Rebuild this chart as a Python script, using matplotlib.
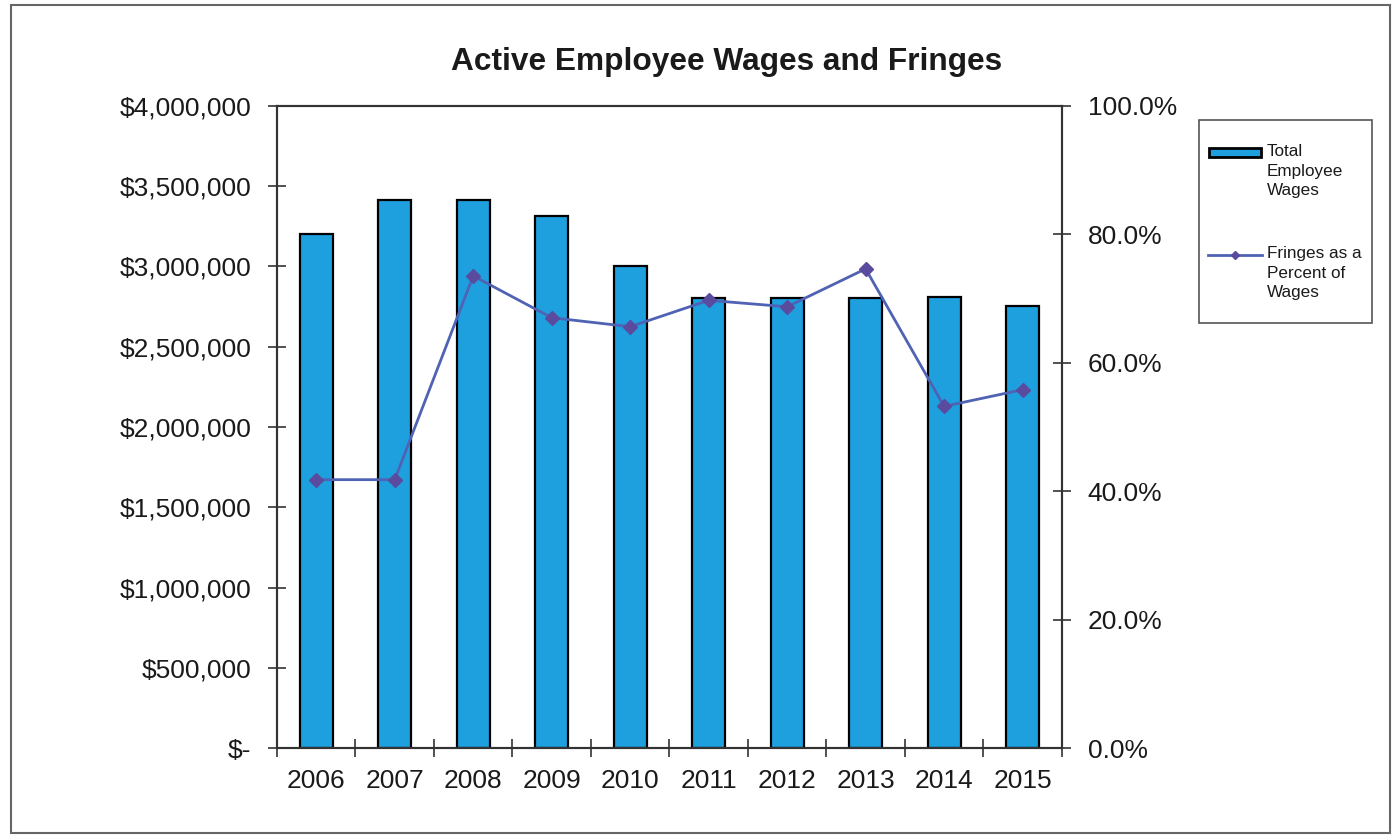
import numpy as np
import matplotlib.pyplot as plt
from matplotlib.ticker import FuncFormatter
from matplotlib.patches import Rectangle
from matplotlib.lines import Line2D

plt.rcParams['font.family'] = ['Liberation Sans', 'DejaVu Sans']

years = ['2006', '2007', '2008', '2009', '2010', '2011', '2012', '2013', '2014', '2015']
wages = [3200000, 3415000, 3415000, 3310000, 3000000, 2800000, 2800000, 2800000, 2810000, 2750000]
fringe_pct = [0.418, 0.418, 0.735, 0.670, 0.656, 0.697, 0.687, 0.746, 0.532, 0.558]

bar_color = '#1EA0DF'
line_color = '#4F62B4'
marker_color = '#5A4B9E'

fig = plt.figure(figsize=(13.99, 8.38), dpi=100)
ax = fig.add_axes([0.198, 0.107, 0.561, 0.767])
x = np.arange(len(years))

ax.bar(x, wages, width=0.42, color=bar_color, edgecolor='black', linewidth=1.6, zorder=2)
ax.set_xlim(-0.5, len(years) - 0.5)
ax.set_ylim(0, 4000000)
ax.set_yticks(np.arange(0, 4000001, 500000))

def money(v, pos):
    if v == 0:
        return '$-'
    return '${:,.0f}'.format(v)

ax.yaxis.set_major_formatter(FuncFormatter(money))
ax.set_xticks(x)
ax.set_xticklabels(years)
ax.set_xticks(np.arange(-0.5, len(years)), minor=True)
ax.tick_params(axis='x', which='major', length=0, pad=15, labelsize=19, colors='#1a1a1a')
ax.tick_params(axis='x', which='minor', direction='inout', length=13, width=1.2, color='#333333')
ax.tick_params(axis='y', direction='inout', length=13, width=1.2, pad=12, labelsize=19,
               colors='#333333', labelcolor='#1a1a1a')

for s in ax.spines.values():
    s.set_color('#333333')
    s.set_linewidth(1.5)

ax2 = ax.twinx()
ax2.plot(x, fringe_pct, color=line_color, linewidth=2, marker='D', markersize=7,
         markerfacecolor=marker_color, markeredgecolor=marker_color, zorder=3)
ax2.set_ylim(0, 1)
ax2.set_yticks(np.arange(0, 1.01, 0.2))
ax2.yaxis.set_major_formatter(FuncFormatter(lambda v, pos: '{:.1f}%'.format(v * 100)))
ax2.tick_params(axis='y', direction='inout', length=13, width=1.2, pad=12, labelsize=19,
                colors='#333333', labelcolor='#1a1a1a')
for s in ax2.spines.values():
    s.set_color('#333333')
    s.set_linewidth(1.5)

fig.text(0.519, 0.926, 'Active Employee Wages and Fringes', ha='center', va='center',
         fontsize=22.8, fontweight='bold', color='#1a1a1a')

# legend box, drawn by hand so the handles sit beside the first text line
W, H = 1399.0, 838.0
def fx(px):
    return px / W
def fy(py):
    return 1 - py / H

fig.patches.append(Rectangle((fx(1199), fy(323)), fx(1372) - fx(1199), fy(120) - fy(323),
                             transform=fig.transFigure, facecolor='white',
                             edgecolor='#555555', linewidth=1.2))
fig.patches.append(Rectangle((fx(1209), fy(157)), fx(1261) - fx(1209), fy(148) - fy(157),
                             transform=fig.transFigure, facecolor=bar_color,
                             edgecolor='black', linewidth=2))
fig.lines.append(Line2D([fx(1208), fx(1262)], [fy(255), fy(255)], transform=fig.transFigure,
                        color=line_color, linewidth=2))
fig.lines.append(Line2D([fx(1235)], [fy(255)], transform=fig.transFigure, marker='D',
                        markersize=4.5, color=marker_color))
fig.text(fx(1267), fy(144), 'Total\nEmployee\nWages', ha='left', va='top', fontsize=12.3,
         linespacing=1.38, color='#1a1a1a')
fig.text(fx(1267), fy(246), 'Fringes as a\nPercent of\nWages', ha='left', va='top', fontsize=12.3,
         linespacing=1.38, color='#1a1a1a')

# outer chart frame
fig.patches.append(Rectangle((fx(11), fy(833)), fx(1390) - fx(11), fy(5) - fy(833),
                             transform=fig.transFigure, facecolor='none',
                             edgecolor='#666666', linewidth=1.5))

fig.savefig('out.png', dpi=100)
